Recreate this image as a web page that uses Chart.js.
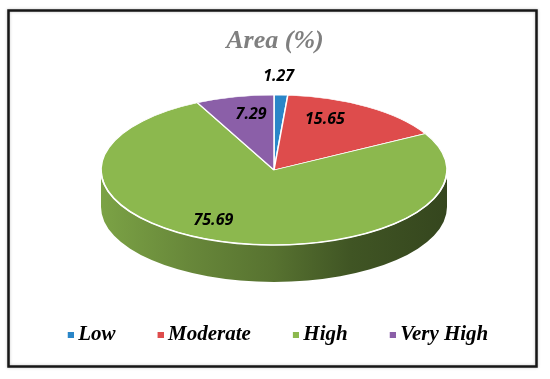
<!DOCTYPE html>
<html>
<head>
<meta charset="utf-8">
<script src="https://cdn.jsdelivr.net/npm/chart.js@4.4.1/dist/chart.umd.min.js"></script>
<style>
  html, body { margin: 0; padding: 0; background: #ffffff; }
  #wrap { width: 550px; height: 379px; position: relative; }
</style>
</head>
<body>
<div id="wrap"><canvas id="c" width="550" height="379"></canvas></div>
<script>
// ---- data ----
const categories = ['Low', 'Moderate', 'High', 'Very High'];
const areaValues = [1.27, 15.65, 75.69, 7.29];
const chartTitle = 'Area (%)';

// ---- styles ----
const sliceColors = ['#2a86c8', '#de4c4c', '#8cb84e', '#8b5fa8'];

function shade(hex, f) {
  const n = parseInt(hex.slice(1), 16);
  const r = Math.round(((n >> 16) & 255) * f);
  const g = Math.round(((n >> 8) & 255) * f);
  const b = Math.round((n & 255) * f);
  return 'rgb(' + r + ',' + g + ',' + b + ')';
}

function legendIcon(color) {
  const c = document.createElement('canvas');
  c.width = 18; c.height = 6;
  const g = c.getContext('2d');
  g.fillStyle = color;
  g.fillRect(12, 0, 6, 6);
  return c;
}

const framePlugin = {
  id: 'frame',
  beforeDraw(chart) {
    const ctx = chart.ctx;
    ctx.save();
    ctx.fillStyle = '#ffffff';
    ctx.fillRect(0, 0, chart.width, chart.height);
    ctx.shadowColor = 'rgba(0,0,0,0.25)';
    ctx.shadowBlur = 3;
    ctx.strokeStyle = '#161616';
    ctx.lineWidth = 2.5;
    ctx.strokeRect(8.5, 10.5, 528, 356);
    ctx.restore();
  }
};

const pie3dPlugin = {
  id: 'pie3d',
  beforeDatasetsDraw(chart, args, opts) {
    const meta = chart.getDatasetMeta(0);
    const arcs = meta.data;
    if (!arcs.length) return;
    const ctx = chart.ctx;
    const r = arcs[0].outerRadius;
    const cx = opts.cx, cy = opts.cy, rx = r, ry = opts.ry, depth = opts.depth;
    // side walls (front half only)
    arcs.forEach((a, i) => {
      const lo = Math.max(a.startAngle, 0);
      const hi = Math.min(a.endAngle, Math.PI);
      if (hi <= lo) return;
      const grad = ctx.createLinearGradient(cx - rx, 0, cx + rx, 0);
      const col = sliceColors[i];
      grad.addColorStop(0, shade(col, 0.88));
      grad.addColorStop(0.25, shade(col, 0.74));
      grad.addColorStop(0.5, shade(col, 0.62));
      grad.addColorStop(0.72, shade(col, 0.46));
      grad.addColorStop(1, shade(col, 0.38));
      ctx.save();
      ctx.beginPath();
      ctx.ellipse(cx, cy, rx, ry, 0, lo, hi, false);
      ctx.ellipse(cx, cy + depth, rx, ry, 0, hi, lo, true);
      ctx.closePath();
      ctx.fillStyle = grad;
      ctx.fill();
      ctx.restore();
    });
    // squash the top face
    ctx.save();
    ctx.translate(cx, cy);
    ctx.scale(1, ry / r);
    ctx.translate(-arcs[0].x, -arcs[0].y);
  },
  afterDatasetsDraw(chart, args, opts) {
    const meta = chart.getDatasetMeta(0);
    const arcs = meta.data;
    if (!arcs.length) return;
    const ctx = chart.ctx;
    ctx.restore();
    const r = arcs[0].outerRadius;
    const cx = opts.cx, cy = opts.cy, rx = r, ry = opts.ry;
    // white rim highlight on the front edge
    ctx.save();
    ctx.beginPath();
    ctx.ellipse(cx, cy, rx, ry, 0, 0.02, Math.PI - 0.02, false);
    ctx.strokeStyle = '#ffffff';
    ctx.lineWidth = 1.6;
    ctx.stroke();
    ctx.restore();
    // data labels
    ctx.save();
    ctx.font = 'italic 700 16px "Open Sans", Lato, "DejaVu Sans", sans-serif';
    ctx.fillStyle = '#000000';
    ctx.textAlign = 'center';
    ctx.textBaseline = 'middle';
    arcs.forEach((a, i) => {
      const mid = (a.startAngle + a.endAngle) / 2;
      const f = opts.labelRadius[i];
      const px = cx + Math.cos(mid) * rx * f + opts.labelShiftX[i];
      const py = cy + Math.sin(mid) * ry * f;
      ctx.fillText(areaValues[i].toFixed(2), px, py);
    });
    ctx.restore();
  }
};

const baseGen = (Chart.overrides.pie && Chart.overrides.pie.plugins && Chart.overrides.pie.plugins.legend && Chart.overrides.pie.plugins.legend.labels.generateLabels)
  || Chart.overrides.doughnut.plugins.legend.labels.generateLabels;

new Chart(document.getElementById('c'), {
  type: 'pie',
  data: {
    labels: categories,
    datasets: [{
      data: areaValues,
      backgroundColor: sliceColors,
      borderColor: '#ffffff',
      borderWidth: 1.5,
      clip: false
    }]
  },
  plugins: [framePlugin, pie3dPlugin],
  options: {
    responsive: false,
    animation: false,
    events: [],
    rotation: 0,
    radius: 173,
    layout: { padding: { top: 16, bottom: 24, left: 0, right: 0 } },
    plugins: {
      title: {
        display: true,
        text: chartTitle,
        color: '#7f7f7f',
        font: { family: '"Liberation Serif", "Times New Roman", serif', size: 26, style: 'italic', weight: 'bold' },
        padding: { top: 10, bottom: 10 }
      },
      legend: {
        display: true,
        position: 'bottom',
        labels: {
          usePointStyle: true,
          boxWidth: 6,
          boxHeight: 6,
          padding: 36,
          color: '#000000',
          font: { family: '"Liberation Serif", "Times New Roman", serif', size: 21, style: 'italic', weight: 'bold' },
          generateLabels(chart) {
            return baseGen(chart).map((it, i) => Object.assign({}, it, {
              pointStyle: legendIcon(sliceColors[i]),
              lineWidth: 0
            }));
          }
        }
      },
      tooltip: { enabled: false },
      pie3d: {
        cx: 274, cy: 170, ry: 75, depth: 37,
        labelRadius: [1.25, 0.8, 0.71, 0.76],
        labelShiftX: [-4, -24, -24, 7]
      }
    }
  }
});
</script>
</body>
</html>
